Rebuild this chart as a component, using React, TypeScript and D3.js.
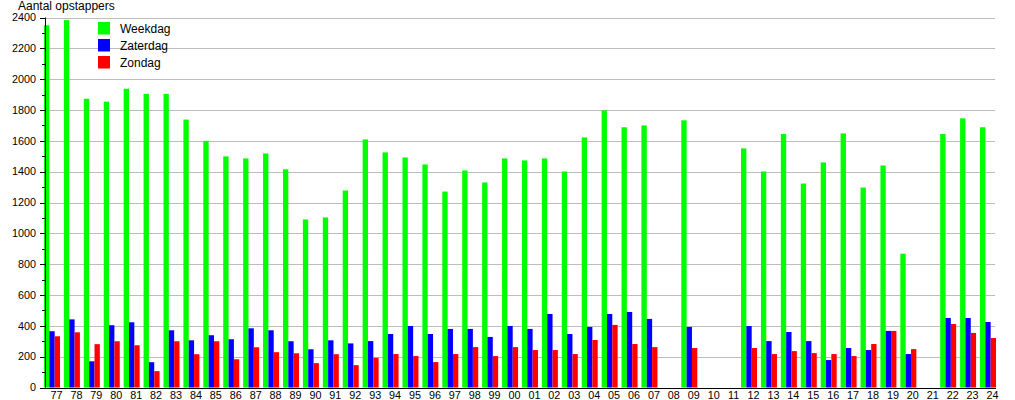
import React from "react";
import * as d3 from "d3";

const years = [
  "77","78","79","80","81","82","83","84","85","86","87","88","89","90","91","92","93","94","95","96","97","98","99",
  "00","01","02","03","04","05","06","07","08","09","10","11","12","13","14","15","16","17","18","19","20","21","22","23","24",
];

const weekdag: (number | null)[] = [
  2350, 2383, 1873, 1854, 1938, 1905, 1905, 1738, 1600, 1499, 1486, 1518, 1415, 1090, 1103, 1278, 1609, 1525, 1492, 1447, 1271, 1408, 1330,
  1486, 1473, 1486, 1401, 1622, 1798, 1688, 1700, null, 1733, null, null, 1551, 1401, 1644, 1323, 1460, 1648, 1297, 1440, 868, null, 1644, 1746, 1688,
];

const zaterdag: (number | null)[] = [
  365, 442, 170, 404, 423, 164, 371, 306, 339, 313, 384, 371, 300, 248, 306, 286, 301, 347, 399, 347, 380, 380, 328,
  399, 380, 477, 347, 393, 477, 490, 445, null, 393, null, null, 399, 301, 360, 301, 178, 256, 243, 367, 217, null, 451, 451, 425,
];

const zondag: (number | null)[] = [
  332, 358, 281, 300, 274, 106, 300, 216, 300, 183, 261, 229, 222, 158, 216, 145, 193, 217, 204, 165, 217, 262, 204,
  262, 243, 243, 217, 308, 406, 282, 262, null, 256, null, null, 256, 217, 236, 223, 217, 204, 282, 367, 249, null, 412, 354, 321,
];

const seriesNames = ["Weekdag", "Zaterdag", "Zondag"];
const seriesColors = ["#00ff00", "#0000ff", "#ff0000"];
const yTicks = [0, 200, 400, 600, 800, 1000, 1200, 1400, 1600, 1800, 2000, 2200, 2400];
const yMinorTicks = [100, 300, 500, 700, 900, 1100, 1300, 1500, 1700, 1900, 2100, 2300];
const yTitle = "Aantal opstappers";

export default function App() {
  const W = 1015, H = 400;
  const axisX = 45;
  const gridRight = 995;
  const y = d3.scaleLinear().domain([0, 2400]).range([387.5, 17.5]);
  const x = d3.scaleBand().domain(years).range([44, 44 + 48 * 19.915]).paddingInner(0).paddingOuter(0);
  const x1 = d3.scaleBand().domain(seriesNames).range([0, 16]);
  const data = [weekdag, zaterdag, zondag];
  const font = "Liberation Sans, Arial, sans-serif";

  return (
    <svg width={W} height={H} style={{ position: "absolute", left: 0, top: 0, background: "#fff" }} fontFamily={font}>
      {yTicks.slice(1).map((t) => (
        <line key={"g" + t} x1={axisX} x2={gridRight} y1={Math.round(y(t)) + 0.5} y2={Math.round(y(t)) + 0.5} stroke="#bdbdbd" strokeWidth={1} />
      ))}
      {years.map((yr, i) => (
        <g key={yr} transform={`translate(${x(yr)},0)`}>
          {data.map((s, k) => {
            const v = s[i];
            if (v == null) return null;
            return (
              <rect
                key={k}
                x={x1(seriesNames[k])}
                y={y(v)}
                width={x1.bandwidth()}
                height={y(0) - y(v)}
                fill={seriesColors[k]}
              />
            );
          })}
        </g>
      ))}
      <line x1={axisX + 0.5} x2={axisX + 0.5} y1={y(2400)} y2={y(0)} stroke="#000" />
      {yTicks.map((t) => (
        <g key={"t" + t}>
          <line x1={40} x2={axisX} y1={Math.round(y(t)) + 0.5} y2={Math.round(y(t)) + 0.5} stroke="#000" />
          <text x={36} y={y(t)} dy="0.35em" textAnchor="end" fontSize={10.8} fill="#000">{t}</text>
        </g>
      ))}
      {yMinorTicks.map((t) => (
        <line key={"m" + t} x1={42} x2={axisX} y1={Math.round(y(t)) + 0.5} y2={Math.round(y(t)) + 0.5} stroke="#000" />
      ))}
      <line x1={40} x2={gridRight + 1} y1={Math.round(y(0)) + 0.5} y2={Math.round(y(0)) + 0.5} stroke="#000" />
      {years.map((yr) => (
        <text key={"l" + yr} x={(x(yr) as number) + 12.5} y={399} textAnchor="middle" fontSize={10.8} fill="#000">{yr}</text>
      ))}
      <text x={18} y={10} fontSize={12} fill="#000">{yTitle}</text>
      {seriesNames.map((n, k) => (
        <g key={"lg" + n} transform={`translate(98,${22 + k * 17})`}>
          <rect x={0} y={0} width={12} height={12.5} fill={seriesColors[k]} />
          <text x={22} y={6.5} dy="0.35em" fontSize={12} fill="#000">{n}</text>
        </g>
      ))}
    </svg>
  );
}
